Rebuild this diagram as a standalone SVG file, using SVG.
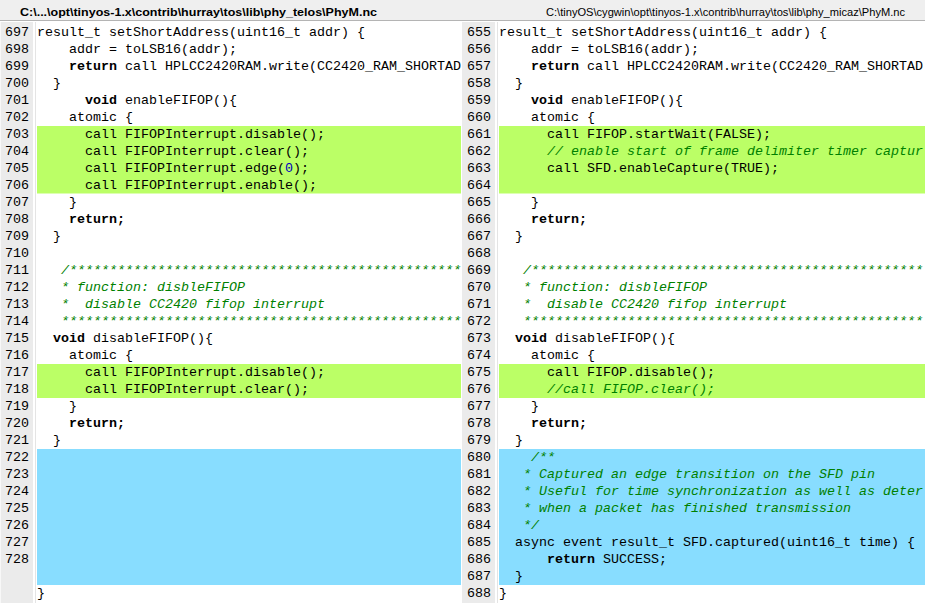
<svg xmlns="http://www.w3.org/2000/svg" width="925" height="603" viewBox="0 0 925 603">
<style>
.t{font-family:"Liberation Mono","Courier New",monospace;font-size:13.33px;fill:#000;white-space:pre}
.b{font-weight:bold}
.cm{fill:#008000;font-style:italic}
.nm{fill:#0000c0}
.ln{font-family:"Liberation Mono","Courier New",monospace;font-size:13.33px;fill:#000}
.hd{font-family:"Liberation Sans",Arial,sans-serif;font-size:11.5px;fill:#000}
.gut{fill:#ebebeb}
.add{fill:#bbff66}
.blk{fill:#88ddff}
</style>
<defs>
<clipPath id="clipL"><rect x="37" y="22" width="424" height="581"/></clipPath>
<clipPath id="clipR"><rect x="499" y="22" width="426" height="581"/></clipPath>
</defs>
<rect x="0" y="0" width="925" height="603" fill="#ffffff"/>
<g id="header">
<rect x="0" y="0" width="925" height="20.5" fill="#efefef"/>
<rect x="0" y="20" width="925" height="1" fill="#b4b4b4"/>
<text class="hd" x="20" y="16" font-weight="bold" textLength="357" lengthAdjust="spacingAndGlyphs">C:\...\opt\tinyos-1.x\contrib\hurray\tos\lib\phy_telos\PhyM.nc</text>
<text class="hd" x="546" y="16" style="font-size:10.5px" textLength="359" lengthAdjust="spacingAndGlyphs">C:\tinyOS\cygwin\opt\tinyos-1.x\contrib\hurray\tos\lib\phy_micaz\PhyM.nc</text>
</g>
<g id="left-panel">
<rect class="gut" x="0" y="22" width="33" height="581"/>
<rect x="0" y="22" width="1" height="581" fill="#f8f8f8"/>
<rect x="35" y="22" width="1" height="581" fill="#e4e4e4"/>
<rect class="add" x="37" y="126" width="424" height="67.5"/>
<rect class="add" x="37" y="364" width="424" height="34"/>
<rect class="blk" x="37" y="449" width="424" height="136"/>
<g id="left-linenumbers">
<text class="ln" x="5" y="36">697</text>
<text class="ln" x="5" y="53">698</text>
<text class="ln" x="5" y="70">699</text>
<text class="ln" x="5" y="87">700</text>
<text class="ln" x="5" y="104">701</text>
<text class="ln" x="5" y="121">702</text>
<text class="ln" x="5" y="138">703</text>
<text class="ln" x="5" y="155">704</text>
<text class="ln" x="5" y="172">705</text>
<text class="ln" x="5" y="189">706</text>
<text class="ln" x="5" y="206">707</text>
<text class="ln" x="5" y="223">708</text>
<text class="ln" x="5" y="240">709</text>
<text class="ln" x="5" y="257">710</text>
<text class="ln" x="5" y="274">711</text>
<text class="ln" x="5" y="291">712</text>
<text class="ln" x="5" y="308">713</text>
<text class="ln" x="5" y="325">714</text>
<text class="ln" x="5" y="342">715</text>
<text class="ln" x="5" y="359">716</text>
<text class="ln" x="5" y="376">717</text>
<text class="ln" x="5" y="393">718</text>
<text class="ln" x="5" y="410">719</text>
<text class="ln" x="5" y="427">720</text>
<text class="ln" x="5" y="444">721</text>
<text class="ln" x="5" y="461">722</text>
<text class="ln" x="5" y="478">723</text>
<text class="ln" x="5" y="495">724</text>
<text class="ln" x="5" y="512">725</text>
<text class="ln" x="5" y="529">726</text>
<text class="ln" x="5" y="546">727</text>
<text class="ln" x="5" y="563">728</text>
</g>
<g id="left-code" clip-path="url(#clipL)" xml:space="preserve">
<text class="t" x="37" y="36">result_t setShortAddress(uint16_t addr) {</text>
<text class="t" x="37" y="53">    addr = toLSB16(addr);</text>
<text class="t" x="37" y="70">    <tspan class="b">return</tspan> call HPLCC2420RAM.write(CC2420_RAM_SHORTAD</text>
<text class="t" x="37" y="87">  }</text>
<text class="t" x="37" y="104">      <tspan class="b">void</tspan> enableFIFOP(){</text>
<text class="t" x="37" y="121">    atomic {</text>
<text class="t" x="37" y="138">      call FIFOPInterrupt.disable();</text>
<text class="t" x="37" y="155">      call FIFOPInterrupt.clear();</text>
<text class="t" x="37" y="172">      call FIFOPInterrupt.edge(<tspan class="nm">0</tspan>);</text>
<text class="t" x="37" y="189">      call FIFOPInterrupt.enable();</text>
<text class="t" x="37" y="206">    }</text>
<text class="t" x="37" y="223">    <tspan class="b">return;</tspan></text>
<text class="t" x="37" y="240">  }</text>
<text class="t cm" x="61" y="274">/*************************************************</text>
<text class="t cm" x="61" y="291">* function: disbleFIFOP</text>
<text class="t cm" x="61" y="308">*  disable CC2420 fifop interrupt</text>
<text class="t cm" x="61" y="325">**************************************************</text>
<text class="t" x="37" y="342">  <tspan class="b">void</tspan> disableFIFOP(){</text>
<text class="t" x="37" y="359">    atomic {</text>
<text class="t" x="37" y="376">      call FIFOPInterrupt.disable();</text>
<text class="t" x="37" y="393">      call FIFOPInterrupt.clear();</text>
<text class="t" x="37" y="410">    }</text>
<text class="t" x="37" y="427">    <tspan class="b">return;</tspan></text>
<text class="t" x="37" y="444">  }</text>
<text class="t" x="37" y="597">}</text>
</g>
</g>
<g id="right-panel">
<rect class="gut" x="462" y="22" width="33" height="581"/>
<rect x="497" y="22" width="1" height="581" fill="#e4e4e4"/>
<rect class="add" x="499" y="126" width="426" height="67.5"/>
<rect class="add" x="499" y="364" width="426" height="34"/>
<rect class="blk" x="499" y="449" width="426" height="136"/>
<g id="right-linenumbers">
<text class="ln" x="467" y="36">655</text>
<text class="ln" x="467" y="53">656</text>
<text class="ln" x="467" y="70">657</text>
<text class="ln" x="467" y="87">658</text>
<text class="ln" x="467" y="104">659</text>
<text class="ln" x="467" y="121">660</text>
<text class="ln" x="467" y="138">661</text>
<text class="ln" x="467" y="155">662</text>
<text class="ln" x="467" y="172">663</text>
<text class="ln" x="467" y="189">664</text>
<text class="ln" x="467" y="206">665</text>
<text class="ln" x="467" y="223">666</text>
<text class="ln" x="467" y="240">667</text>
<text class="ln" x="467" y="257">668</text>
<text class="ln" x="467" y="274">669</text>
<text class="ln" x="467" y="291">670</text>
<text class="ln" x="467" y="308">671</text>
<text class="ln" x="467" y="325">672</text>
<text class="ln" x="467" y="342">673</text>
<text class="ln" x="467" y="359">674</text>
<text class="ln" x="467" y="376">675</text>
<text class="ln" x="467" y="393">676</text>
<text class="ln" x="467" y="410">677</text>
<text class="ln" x="467" y="427">678</text>
<text class="ln" x="467" y="444">679</text>
<text class="ln" x="467" y="461">680</text>
<text class="ln" x="467" y="478">681</text>
<text class="ln" x="467" y="495">682</text>
<text class="ln" x="467" y="512">683</text>
<text class="ln" x="467" y="529">684</text>
<text class="ln" x="467" y="546">685</text>
<text class="ln" x="467" y="563">686</text>
<text class="ln" x="467" y="580">687</text>
<text class="ln" x="467" y="597">688</text>
</g>
<g id="right-code" clip-path="url(#clipR)" xml:space="preserve">
<text class="t" x="499" y="36">result_t setShortAddress(uint16_t addr) {</text>
<text class="t" x="499" y="53">    addr = toLSB16(addr);</text>
<text class="t" x="499" y="70">    <tspan class="b">return</tspan> call HPLCC2420RAM.write(CC2420_RAM_SHORTAD</text>
<text class="t" x="499" y="87">  }</text>
<text class="t" x="499" y="104">    <tspan class="b">void</tspan> enableFIFOP(){</text>
<text class="t" x="499" y="121">    atomic {</text>
<text class="t" x="499" y="138">      call FIFOP.startWait(FALSE);</text>
<text class="t cm" x="547" y="155">// enable start of frame delimiter timer captur</text>
<text class="t" x="499" y="172">      call SFD.enableCapture(TRUE);</text>
<text class="t" x="499" y="206">    }</text>
<text class="t" x="499" y="223">    <tspan class="b">return;</tspan></text>
<text class="t" x="499" y="240">  }</text>
<text class="t cm" x="523" y="274">/*************************************************</text>
<text class="t cm" x="523" y="291">* function: disbleFIFOP</text>
<text class="t cm" x="523" y="308">*  disable CC2420 fifop interrupt</text>
<text class="t cm" x="523" y="325">**************************************************</text>
<text class="t" x="499" y="342">  <tspan class="b">void</tspan> disableFIFOP(){</text>
<text class="t" x="499" y="359">    atomic {</text>
<text class="t" x="499" y="376">      call FIFOP.disable();</text>
<text class="t cm" x="547" y="393">//call FIFOP.clear();</text>
<text class="t" x="499" y="410">    }</text>
<text class="t" x="499" y="427">    <tspan class="b">return;</tspan></text>
<text class="t" x="499" y="444">  }</text>
<text class="t cm" x="531" y="461">/**</text>
<text class="t cm" x="523" y="478">* Captured an edge transition on the SFD pin</text>
<text class="t cm" x="523" y="495">* Useful for time synchronization as well as deter</text>
<text class="t cm" x="523" y="512">* when a packet has finished transmission</text>
<text class="t cm" x="523" y="529">*/</text>
<text class="t" x="499" y="546">  async event result_t SFD.captured(uint16_t time) {</text>
<text class="t" x="499" y="563">      <tspan class="b">return</tspan> SUCCESS;</text>
<text class="t" x="499" y="580">  }</text>
<text class="t" x="499" y="597">}</text>
</g>
</g>
</svg>
